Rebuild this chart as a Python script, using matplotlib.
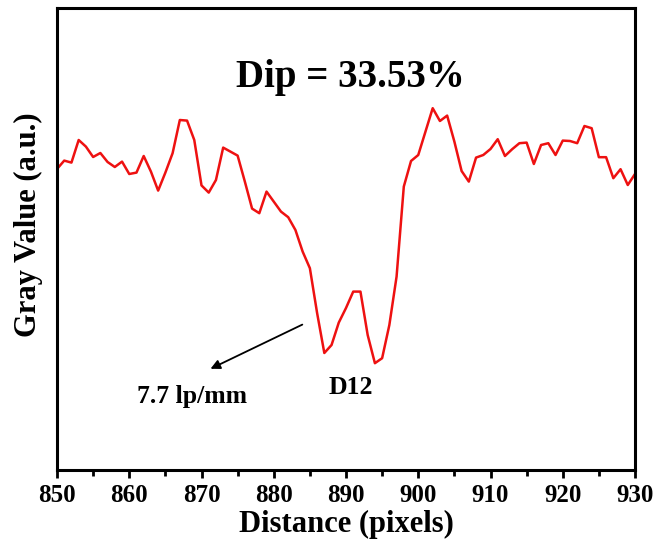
import matplotlib.pyplot as plt
import numpy as np
from matplotlib.ticker import MultipleLocator

# line profile across the D12 bar group
distance = np.arange(850, 931)
gray = [150.5, 154.7, 153.7, 165.0, 161.7, 156.5, 158.5, 154.0, 151.5, 154.2,
        148.0, 148.7, 157.0, 149.2, 139.7, 148.7, 158.4, 175.0, 174.7, 165.0,
        142.3, 138.7, 145.0, 161.2, 159.2, 157.2, 144.2, 130.7, 128.4, 139.2,
        134.2, 129.2, 126.4, 120.0, 109.2, 100.9, 78.5, 58.5, 62.5, 73.7,
        81.0, 89.2, 89.2, 67.5, 53.4, 55.9, 72.5, 96.7, 141.7, 154.5,
        157.5, 169.2, 180.9, 174.5, 177.2, 164.2, 149.5, 144.2, 156.2, 157.5,
        160.5, 165.4, 157.0, 160.4, 163.4, 163.7, 153.0, 162.5, 163.4, 157.5,
        164.7, 164.5, 163.4, 172.0, 170.9, 156.4, 156.4, 145.9, 150.4, 142.5,
        148.0]
dip_label = 'Dip = 33.53%'
freq_label = '7.7 lp/mm'
group_label = 'D12'

plt.rcParams['font.family'] = ['Liberation Serif', 'DejaVu Serif']
plt.rcParams['font.weight'] = 'bold'

fig = plt.figure(figsize=(6.59, 5.5), dpi=100)
ax = fig.add_axes([57 / 659, 80 / 550, 578 / 659, 462 / 550])

ax.plot(distance, gray, color='#ee1111', lw=1.8)

ax.set_xlim(850, 930)
ax.set_ylim(0, 231)
ax.xaxis.set_major_locator(MultipleLocator(10))
ax.xaxis.set_minor_locator(MultipleLocator(5))
ax.tick_params(axis='x', which='both', direction='out', width=2, labelsize=18, pad=4)
ax.tick_params(axis='x', which='major', length=6)
ax.tick_params(axis='x', which='minor', length=4)
ax.set_yticks([])
for s in ax.spines.values():
    s.set_linewidth(2.2)

ax.set_xlabel('Distance (pixels)', fontsize=22, fontweight='bold', labelpad=2)
ax.set_ylabel('Gray Value (a.u.)', fontsize=22, fontweight='bold', labelpad=10, y=0.53)

ax.text(890.6, 196, dip_label, fontsize=28, fontweight='bold', ha='center', va='center')
ax.text(861.1, 37, freq_label, fontsize=18.5, fontweight='bold', ha='left', va='center')
ax.text(890.7, 41, group_label, fontsize=18.5, fontweight='bold', ha='center', va='center')
ax.annotate('', xy=(870.9, 50), xytext=(884.3, 73.3),
            arrowprops=dict(arrowstyle='-|>', color='black', lw=1.3, mutation_scale=14))

fig.savefig('out.png', dpi=100)
